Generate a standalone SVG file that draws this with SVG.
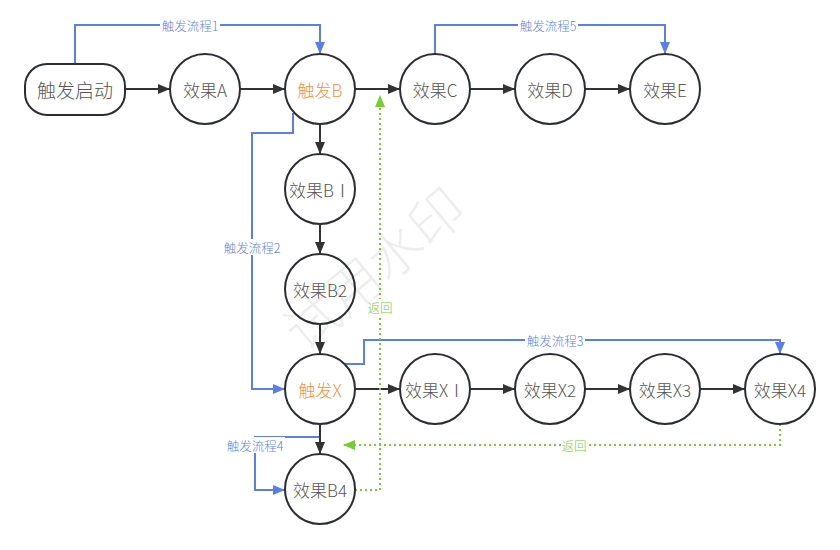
<svg xmlns="http://www.w3.org/2000/svg" width="840" height="550" viewBox="0 0 840 550">
<style>
  .n { fill: #fff; stroke: #2a2d33; stroke-width: 2; }
  .t { font-family: "Noto Sans CJK SC", "Noto Sans", sans-serif; font-size: 17px; font-weight: 300; fill: #555; text-anchor: middle; dominant-baseline: central; }
  .o { fill: #f0923c; }
  .e { fill: none; stroke: #333; stroke-width: 2; }
  .b { fill: none; stroke: #5b7fe8; stroke-width: 2; }
  .g { fill: none; stroke: #77cc33; stroke-width: 2; stroke-dasharray: 2 3; }
  .lb { font-family: "Noto Sans CJK SC", "Noto Sans", sans-serif; font-size: 12.5px; font-weight: 300; fill: #5b7fe8; text-anchor: middle; dominant-baseline: central; }
  .lg { font-family: "Noto Sans CJK SC", "Noto Sans", sans-serif; font-size: 12.5px; font-weight: 300; fill: #77cc33; text-anchor: middle; dominant-baseline: central; }
  .bg { fill: #fff; }
</style>
<defs>
  <marker id="ad" viewBox="0 0 12 10" refX="12" refY="5" markerWidth="12" markerHeight="10" markerUnits="userSpaceOnUse" orient="auto">
    <path d="M0,0 L12,5 L0,10 Z" fill="#333"/>
  </marker>
  <marker id="ab" viewBox="0 0 12 10" refX="12" refY="5" markerWidth="12" markerHeight="10" markerUnits="userSpaceOnUse" orient="auto">
    <path d="M0,0 L12,5 L0,10 Z" fill="#5b7fe8"/>
  </marker>
  <marker id="ag" viewBox="0 0 12 10" refX="12" refY="5" markerWidth="12" markerHeight="10" markerUnits="userSpaceOnUse" orient="auto">
    <path d="M0,0 L12,5 L0,10 Z" fill="#77cc33"/>
  </marker>
</defs>
<rect width="840" height="550" fill="#fff"/>

<g id="edges">
  <path class="e" d="M125,89 H170" marker-end="url(#ad)"/>
  <path class="e" d="M240,89 H285" marker-end="url(#ad)"/>
  <path class="e" d="M355,89 H400" marker-end="url(#ad)"/>
  <path class="e" d="M470,89 H515" marker-end="url(#ad)"/>
  <path class="e" d="M585,89 H630" marker-end="url(#ad)"/>
  <path class="e" d="M320,124 V154" marker-end="url(#ad)"/>
  <path class="e" d="M320,224 V254" marker-end="url(#ad)"/>
  <path class="e" d="M320,324 V354" marker-end="url(#ad)"/>
  <path class="e" d="M355,389 H400" marker-end="url(#ad)"/>
  <path class="e" d="M470,389 H515" marker-end="url(#ad)"/>
  <path class="e" d="M585,389 H630" marker-end="url(#ad)"/>
  <path class="e" d="M700,389 H745" marker-end="url(#ad)"/>
  <path class="e" d="M320,424 V454" marker-end="url(#ad)"/>

  <path class="b" d="M75,64 V25 H320 V54" marker-end="url(#ab)"/>
  <path class="b" d="M435,54 V25 H665 V54" marker-end="url(#ab)"/>
  <path class="b" d="M293,113 V133 H252 V389 H285" marker-end="url(#ab)"/>
  <path class="b" d="M345,364 H364 V340 H780 V354" marker-end="url(#ab)"/>
  <path class="b" d="M319,437 H255 V490 H285" marker-end="url(#ab)"/>

  <path class="g" d="M355,490 H380 V95" marker-end="url(#ag)"/>
  <path class="g" d="M780,424 V445 H343" marker-end="url(#ag)"/>

  <rect class="bg" x="160" y="17" width="60" height="16"/>
  <text class="lb" x="190" y="25">触发流程1</text>
  <rect class="bg" x="518" y="17" width="60" height="16"/>
  <text class="lb" x="548" y="25">触发流程5</text>
  <rect class="bg" x="222" y="239" width="60" height="16"/>
  <text class="lb" x="252" y="247">触发流程2</text>
  <rect class="bg" x="525" y="332" width="60" height="16"/>
  <text class="lb" x="555" y="340">触发流程3</text>
  <rect class="bg" x="225" y="437" width="60" height="16"/>
  <text class="lb" x="255" y="445">触发流程4</text>
  <rect class="bg" x="367" y="299" width="26" height="16"/>
  <text class="lg" x="380" y="307">返回</text>
  <rect class="bg" x="561" y="437" width="26" height="16"/>
  <text class="lg" x="574" y="445">返回</text>
</g>

<g id="start"><rect class="n" x="25" y="64" width="100" height="51" rx="22"/><text class="t" x="75" y="89.5" style="font-size:19px">触发启动</text></g>
<g id="effA"><circle class="n" cx="205" cy="89" r="35"/><text class="t" x="205" y="89">效果A</text></g>
<g id="trigB"><circle class="n" cx="320" cy="89" r="35"/><text class="t o" x="320" y="89">触发B</text></g>
<g id="effC"><circle class="n" cx="435" cy="89" r="35"/><text class="t" x="435" y="89">效果C</text></g>
<g id="effD"><circle class="n" cx="550" cy="89" r="35"/><text class="t" x="550" y="89">效果D</text></g>
<g id="effE"><circle class="n" cx="665" cy="89" r="35"/><text class="t" x="665" y="89">效果E</text></g>
<g id="effB1"><circle class="n" cx="320" cy="189" r="35"/><text class="t" x="320" y="189">效果BⅠ</text></g>
<g id="effB2"><circle class="n" cx="320" cy="289" r="35"/><text class="t" x="320" y="289">效果B2</text></g>
<g id="trigX"><circle class="n" cx="320" cy="389" r="35"/><text class="t o" x="320" y="389">触发X</text></g>
<g id="effB4"><circle class="n" cx="320" cy="489" r="35"/><text class="t" x="320" y="489">效果B4</text></g>
<g id="effX1"><circle class="n" cx="435" cy="389" r="35"/><text class="t" x="435" y="389">效果XⅠ</text></g>
<g id="effX2"><circle class="n" cx="550" cy="389" r="35"/><text class="t" x="550" y="389">效果X2</text></g>
<g id="effX3"><circle class="n" cx="665" cy="389" r="35"/><text class="t" x="665" y="389">效果X3</text></g>
<g id="effX4"><circle class="n" cx="780" cy="389" r="35"/><text class="t" x="780" y="389">效果X4</text></g>

<text x="372" y="266" transform="rotate(-40 372 266)" font-family="Noto Sans CJK SC, sans-serif" font-size="54" font-weight="300" fill="#000" fill-opacity="0.07" text-anchor="middle" dominant-baseline="central">试用水印</text>
</svg>
